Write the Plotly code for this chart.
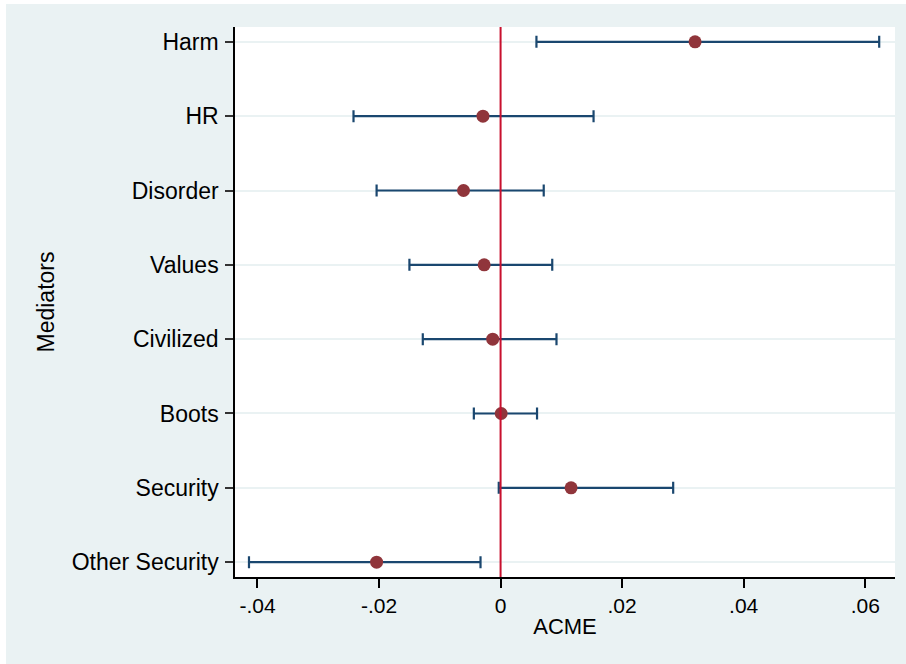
import plotly.graph_objects as go

mediators = ["Harm", "HR", "Disorder", "Values", "Civilized", "Boots", "Security", "Other Security"]
acme = [0.0320, -0.0029, -0.0061, -0.0027, -0.0013, 0.0001, 0.0116, -0.0204]
ci_low = [0.0059, -0.0242, -0.0204, -0.0150, -0.0128, -0.0044, -0.0003, -0.0414]
ci_high = [0.0623, 0.0153, 0.0071, 0.0085, 0.0092, 0.0060, 0.0284, -0.0033]
x_ticks = [-0.04, -0.02, 0, 0.02, 0.04, 0.06]
x_ticklabels = ["-.04", "-.02", "0", ".02", ".04", ".06"]

BG = "#EAF2F3"
NAVY = "#1A476F"
MAROON = "#90353B"
RED = "#C8102E"
FONT = "Liberation Sans, Arial, sans-serif"
FS = 23

err_plus = [h - a for h, a in zip(ci_high, acme)]
err_minus = [a - l for a, l in zip(acme, ci_low)]

fig = go.Figure()
fig.add_trace(go.Scatter(
    x=acme, y=mediators, mode="markers",
    marker=dict(color=MAROON, size=13, line=dict(width=0)),
    error_x=dict(type="data", symmetric=False, array=err_plus, arrayminus=err_minus,
                 color=NAVY, thickness=2.2, width=6),
    showlegend=False,
))

fig.add_shape(type="line", xref="x", yref="paper", x0=0, x1=0, y0=0, y1=1,
              line=dict(color=RED, width=2), layer="above")

# white outer strips (left and top)
W, H = 906, 664
l, r, t, b = 235, 11, 27, 87
pw, ph = W - l - r, H - t - b
fig.add_shape(type="rect", xref="paper", yref="paper",
              x0=(0 - l) / pw, x1=(6 - l) / pw, y0=(H - b - H) / ph, y1=(H - b - 0) / ph,
              fillcolor="white", line=dict(width=0), layer="below")
fig.add_shape(type="rect", xref="paper", yref="paper",
              x0=(0 - l) / pw, x1=(W - l) / pw, y0=(H - b - 4) / ph, y1=(H - b) / ph + 0.01,
              fillcolor="white", line=dict(width=0), layer="below")

fig.update_layout(
    width=W, height=H,
    margin=dict(l=l, r=r, t=t, b=b, pad=0),
    paper_bgcolor=BG, plot_bgcolor="white",
    font=dict(family=FONT, size=FS, color="black"),
    xaxis=dict(
        range=[-0.0437, 0.0649], tickvals=x_ticks, ticktext=x_ticklabels,
        showgrid=False, zeroline=False, showline=True, linecolor="black", linewidth=1.5,
        ticks="outside", ticklen=9, tickwidth=1.5, tickcolor="black",
        ticklabelstandoff=0,
        title=dict(text="ACME", standoff=3, font=dict(size=22)),
        tickfont=dict(size=21),
    ),
    yaxis=dict(
        categoryorder="array", categoryarray=mediators,
        range=[7.2, -0.2], autorange=False,
        showgrid=True, gridcolor=BG, gridwidth=2, zeroline=False,
        showline=True, linecolor="black", linewidth=1.5,
        ticks="outside", ticklen=8, tickwidth=1.5, tickcolor="#333",
        ticklabelstandoff=2,
        title=dict(text="Mediators", standoff=11, font=dict(size=FS)),
        tickfont=dict(size=FS),
    ),
)

fig.write_html("out.html")
